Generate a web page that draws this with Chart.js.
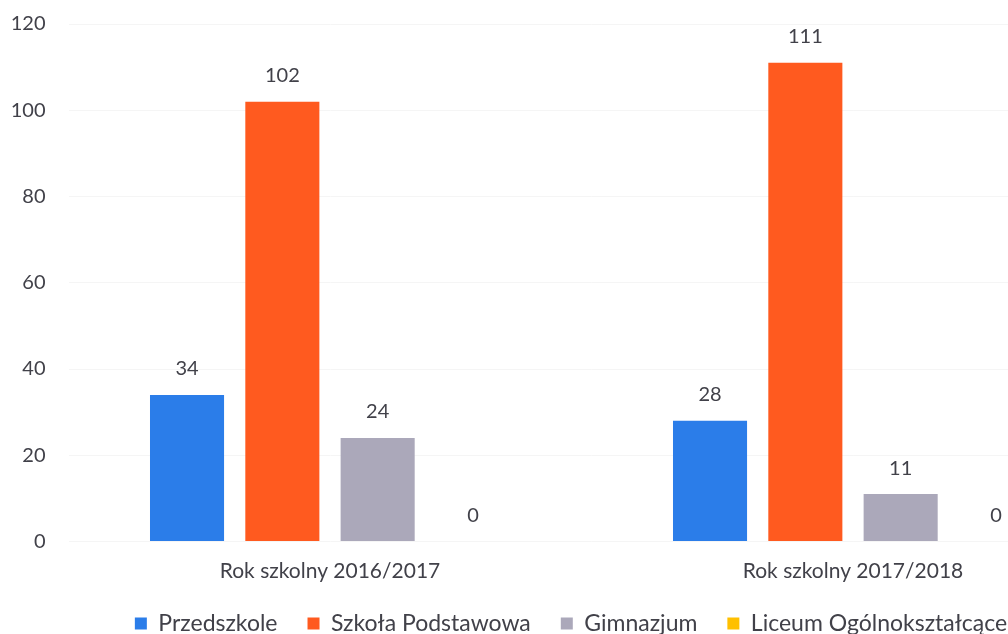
<!DOCTYPE html>
<html>
<head>
<meta charset="utf-8">
<script src="https://cdn.jsdelivr.net/npm/chart.js@4.4.1/dist/chart.umd.min.js"></script>
<style>
html,body{margin:0;padding:0;background:#fff;overflow:hidden;width:1008px;height:634px;}
#wrap{position:absolute;left:0;top:0;width:1142px;height:645px;}
</style>
</head>
<body>
<div id="wrap"><canvas id="c" width="1142" height="645"></canvas></div>
<script>
const categories = ["Rok szkolny 2016/2017", "Rok szkolny 2017/2018"];
const seriesNames = ["Przedszkole", "Szkoła Podstawowa", "Gimnazjum", "Liceum Ogólnokształcące"];
const przedszkole = [34, 28];
const szkolaPodstawowa = [102, 111];
const gimnazjum = [24, 11];
const liceum = [0, 0];
const yTicks = [0, 20, 40, 60, 80, 100, 120];

const colors = ["#2b7de9", "#ff5a1f", "#aba8ba", "#ffc000"];
const textColor = "#414149";
const fontFamily = "Lato, 'Open Sans', sans-serif";

const valueLabels = {
  id: "valueLabels",
  afterDatasetsDraw(chart) {
    const ctx = chart.ctx;
    ctx.save();
    ctx.fillStyle = textColor;
    ctx.font = "20px " + fontFamily;
    ctx.textAlign = "center";
    ctx.textBaseline = "middle";
    chart.data.datasets.forEach((ds, i) => {
      const meta = chart.getDatasetMeta(i);
      meta.data.forEach((bar, j) => {
        ctx.fillText(String(ds.data[j]), bar.x, bar.y - 26);
      });
    });
    ctx.restore();
  }
};

const seriesData = [przedszkole, szkolaPodstawowa, gimnazjum, liceum];

new Chart(document.getElementById("c"), {
  type: "bar",
  data: {
    labels: categories,
    datasets: seriesNames.map((n, i) => ({
      label: n,
      data: seriesData[i],
      backgroundColor: colors[i],
      borderWidth: 0,
      categoryPercentage: 0.729,
      barPercentage: 0.777
    }))
  },
  options: {
    responsive: false,
    animation: false,
    devicePixelRatio: 1,
    layout: { autoPadding: false, padding: { top: 24, right: 0, left: 0, bottom: 0 } },
    plugins: {
      tooltip: { enabled: false },
      legend: {
        position: "bottom",
        labels: {
          color: textColor,
          font: { family: fontFamily, size: 23 },
          boxWidth: 12,
          boxHeight: 12,
          padding: 30,
          useBorderRadius: false
        }
      }
    },
    scales: {
      x: {
        afterFit(scale) { scale.height = 40.5; },
        grid: { display: false, drawTicks: false },
        border: { display: false },
        ticks: { color: textColor, font: { family: fontFamily, size: 21 }, padding: 17.5 }
      },
      y: {
        position: "left",
        min: 0, max: 120,
        afterFit(scale) { scale.width = 68.5; },
        afterBuildTicks(scale) { scale.ticks = yTicks.map(v => ({ value: v })); },
        grid: { color: "#f5f5f5", drawTicks: true, tickLength: 23, tickColor: "rgba(0,0,0,0)" },
        border: { display: false },
        ticks: { color: textColor, font: { family: fontFamily, size: 20 }, padding: 0 }
      },
      yRight: {
        position: "right",
        display: true,
        min: 0, max: 120,
        afterFit(scale) { scale.width = 27.5; },
        grid: { display: false, drawTicks: false },
        border: { display: false },
        ticks: { display: false, padding: 0 }
      }
    }
  },
  plugins: [valueLabels]
});
</script>
</body>
</html>
